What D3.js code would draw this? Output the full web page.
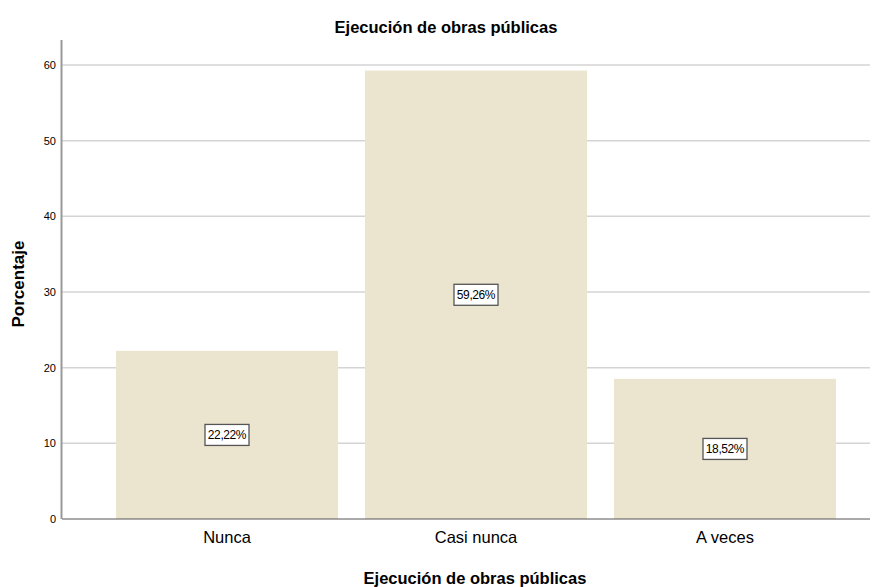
<!DOCTYPE html>
<html>
<head>
<meta charset="utf-8">
<script src="https://cdn.jsdelivr.net/npm/d3@7"></script>
<style>
	body { margin: 0; background: #fff; }
	text { font-family: Arial, "Liberation Sans", sans-serif; fill: #000; }
</style>
</head>
<body>
<div id="chart"></div>
<script>
var categories = ['Nunca', 'Casi nunca', 'A veces'];
var percents = [22.22, 59.26, 18.52];
var valueLabels = ['22,22%', '59,26%', '18,52%'];
var yTicks = [0, 10, 20, 30, 40, 50, 60];

var width = 875,
	height = 587,
	margin = {top: 40, right: 5, bottom: 68, left: 62};

var svg = d3.select('#chart')
	.append('svg')
	.attr('width', width)
	.attr('height', height);

var x = d3.scaleBand()
	.domain(categories)
	.range([102.5, 849.5])
	.paddingInner(0.108)
	.paddingOuter(0.054);

var y = d3.scaleLinear()
	.domain([0, 63.3])
	.range([519, margin.top]);

// gridlines
svg.selectAll('.grid')
	.data(yTicks.filter(function(d) { return d > 0; }))
	.enter()
	.append('line')
	.attr('x1', margin.left)
	.attr('x2', width - margin.right)
	.attr('y1', function(d) { return y(d); })
	.attr('y2', function(d) { return y(d); })
	.attr('stroke', '#d4d4d4')
	.attr('stroke-width', 1.5);

// bars
svg.selectAll('.bar')
	.data(percents)
	.enter()
	.append('rect')
	.attr('x', function(d, i) { return x(categories[i]); })
	.attr('width', x.bandwidth())
	.attr('y', function(d) { return y(d); })
	.attr('height', function(d) { return y(0) - y(d); })
	.attr('fill', '#ebe4cf');

// baseline
svg.append('line')
	.attr('x1', margin.left)
	.attr('x2', width - margin.right)
	.attr('y1', y(0))
	.attr('y2', y(0))
	.attr('stroke', '#555')
	.attr('stroke-width', 1);

// y axis
var yAxis = d3.axisLeft(y)
	.tickValues(yTicks)
	.tickSize(0)
	.tickPadding(6);

var yg = svg.append('g')
	.attr('transform', 'translate(' + margin.left + ',0)')
	.call(yAxis);

yg.select('.domain').remove();
yg.selectAll('text')
	.style('font-size', '11px')
	.attr('fill', '#111');

svg.append('line')
	.attr('x1', margin.left - 0.5)
	.attr('x2', margin.left - 0.5)
	.attr('y1', margin.top)
	.attr('y2', y(0))
	.attr('stroke', '#999')
	.attr('stroke-width', 2);

// x category labels
var xAxis = d3.axisBottom(x).tickSize(0).tickPadding(12);
var xg = svg.append('g')
	.attr('transform', 'translate(0,' + y(0) + ')')
	.call(xAxis);
xg.select('.domain').remove();
xg.selectAll('text')
	.style('font-size', '16.5px')
	.attr('fill', '#333');

// value boxes
var labels = svg.selectAll('.val')
	.data(percents)
	.enter()
	.append('g')
	.attr('transform', function(d, i) {
		return 'translate(' + (x(categories[i]) + x.bandwidth() / 2) + ',' + y(d / 2) + ')';
	});

labels.append('rect')
	.attr('x', -22)
	.attr('y', -10.5)
	.attr('width', 44)
	.attr('height', 21)
	.attr('fill', '#fff')
	.attr('stroke', '#555')
	.attr('stroke-width', 1.3);

labels.append('text')
	.attr('text-anchor', 'middle')
	.attr('dy', '0.36em')
	.style('font-size', '12px')
	.style('letter-spacing', '-0.4px')
	.text(function(d, i) { return valueLabels[i]; });

// titles
svg.append('text')
	.attr('x', 446)
	.attr('y', 33)
	.attr('text-anchor', 'middle')
	.style('font-size', '16.5px')
	.style('font-weight', 'bold')
	.text('Ejecución de obras públicas');

svg.append('text')
	.attr('x', 475)
	.attr('y', 584)
	.attr('text-anchor', 'middle')
	.style('font-size', '16.5px')
	.style('font-weight', 'bold')
	.text('Ejecución de obras públicas');

svg.append('text')
	.attr('transform', 'translate(24,284) rotate(-90)')
	.attr('text-anchor', 'middle')
	.style('font-size', '17px')
	.style('font-weight', 'bold')
	.text('Porcentaje');
</script>
</body>
</html>
